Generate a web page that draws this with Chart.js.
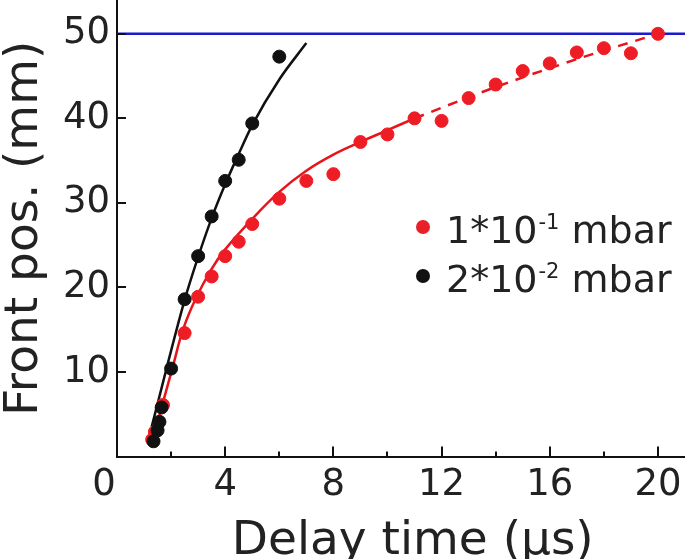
<!DOCTYPE html>
<html>
<head>
<meta charset="utf-8">
<script src="https://cdn.jsdelivr.net/npm/chart.js@4.4.1/dist/chart.umd.min.js"></script>
<style>
  html, body { margin: 0; padding: 0; background: #fff; }
  #wrap { width: 685px; height: 559px; }
</style>
</head>
<body>
<div id="wrap"><canvas id="myChart" width="685" height="559"></canvas></div>
<script>
// 1*10^-1 mbar, measured points
const redX = [1.3, 1.4, 1.7, 2.5, 3, 3.5, 4, 4.5, 5, 6, 7, 8, 9, 10, 11, 12, 13, 14, 15, 16, 17, 18, 19, 20];
const redY = [2.0, 2.9, 6.1, 14.6, 18.9, 21.3, 23.7, 25.4, 27.5, 30.5, 32.6, 33.4, 37.2, 38.1, 40.0, 39.7, 42.4, 44.0, 45.6, 46.5, 47.8, 48.3, 47.7, 50.0];
// 2*10^-2 mbar, measured points
const blackX = [1.35, 1.5, 1.57, 1.65, 2, 2.5, 3, 3.5, 4, 4.5, 5, 6];
const blackY = [1.8, 3.1, 4.1, 5.8, 10.4, 18.6, 23.7, 28.4, 32.6, 35.1, 39.4, 47.3];
// fit curves
const redFitX = [1.39, 2.07, 2.44, 2.9, 3.5, 4, 5, 6, 7, 8, 9, 10, 11];
const redFitY = [2.8, 10.7, 15.0, 18.6, 22.2, 24.5, 28.1, 31.3, 33.8, 35.7, 37.2, 38.6, 40.0];
const redExtX = [11, 14, 17, 20];
const redExtY = [40.0, 43.7, 47.0, 50.0];
const blackFitX = [1.28, 2.5, 3, 3.5, 4, 4.5, 5, 6, 7];
const blackFitY = [3.5, 18.5, 23.6, 28.2, 32.2, 35.8, 39.2, 44.6, 48.9];
// chamber end
const limitX = [0, 21];
const limitY = [50, 50];
// axes
const xTicks = [0, 4, 8, 12, 16, 20];
const xMinor = [2, 6, 10, 14, 18];
const yTicks = [10, 20, 30, 40, 50];
const legendRows = [['1*10', '-1', ' mbar', '#e8202a'], ['2*10', '-2', ' mbar', '#111']];

const FONT = '"DejaVu Sans"';
const pts = (xs, ys) => xs.map((v, i) => ({ x: v, y: ys[i] }));

const ticksPlugin = {
    id: 'inTicks',
    afterDraw(chart) {
        const ctx = chart.ctx;
        const x = chart.scales.x;
        const y = chart.scales.y;
        ctx.save();
        ctx.strokeStyle = '#111';
        ctx.lineWidth = 2;
        ctx.beginPath();
        xTicks.concat(xMinor).forEach(v => {
            if (v === 0) return;
            const px = Math.round(x.getPixelForValue(v));
            const len = v % 4 === 0 ? 10 : 5;
            ctx.moveTo(px, y.bottom);
            ctx.lineTo(px, y.bottom - len);
        });
        yTicks.forEach(v => {
            const py = Math.round(y.getPixelForValue(v));
            ctx.moveTo(x.left, py);
            ctx.lineTo(x.left + 9, py);
        });
        ctx.stroke();

        // legend
        legendRows.forEach((row, i) => {
            const base = 243 + i * 49;
            ctx.fillStyle = row[3];
            ctx.beginPath();
            ctx.arc(423, base - 16, 7, 0, Math.PI * 2);
            ctx.fill();
            ctx.fillStyle = '#222';
            ctx.textBaseline = 'alphabetic';
            ctx.font = '38px ' + FONT;
            let tx = 446;
            ctx.fillText(row[0], tx, base);
            tx += ctx.measureText(row[0]).width + 1;
            ctx.font = '21px ' + FONT;
            ctx.fillText(row[1], tx, base - 14);
            tx += ctx.measureText(row[1]).width;
            ctx.font = '38px ' + FONT;
            ctx.fillText(row[2], tx, base);
        });
        ctx.restore();
    }
};

const ctx = document.getElementById('myChart');
new Chart(ctx, {
    type: 'scatter',
    data: {
        datasets: [
            {
                data: pts(blackX, blackY),
                backgroundColor: '#111',
                borderColor: '#111',
                pointRadius: 6.5,
                order: 0
            },
            {
                data: pts(redX, redY),
                backgroundColor: '#ee1c24',
                borderColor: '#ee1c24',
                pointRadius: 6.5,
                order: 1
            },
            {
                data: pts(blackFitX, blackFitY),
                showLine: true,
                borderColor: '#111',
                borderWidth: 2.5,
                pointRadius: 0,
                cubicInterpolationMode: 'monotone',
                order: 2
            },
            {
                data: pts(redFitX, redFitY),
                showLine: true,
                borderColor: '#e8141c',
                borderWidth: 2.5,
                pointRadius: 0,
                tension: 0.4,
                order: 3
            },
            {
                data: pts(redExtX, redExtY),
                showLine: true,
                borderColor: '#e8141c',
                borderWidth: 2.5,
                borderDash: [10, 8],
                pointRadius: 0,
                cubicInterpolationMode: 'monotone',
                order: 4
            },
            {
                data: pts(limitX, limitY),
                showLine: true,
                borderColor: '#1a1ad0',
                borderWidth: 2.5,
                pointRadius: 0,
                order: 5
            }
        ]
    },
    options: {
        responsive: false,
        animation: false,
        layout: { padding: 0, autoPadding: false },
        plugins: {
            legend: { display: false },
            tooltip: { enabled: false }
        },
        scales: {
            x: {
                type: 'linear',
                min: 0,
                max: 21,
                afterBuildTicks: axis => { axis.ticks = xTicks.map(v => ({ value: v })); },
                afterFit: axis => {
                    axis.height = 102.5;
                    axis.paddingLeft = 0;
                    axis.paddingRight = 0;
                },
                grid: { display: false, drawTicks: false },
                border: { display: true, color: '#111', width: 2 },
                ticks: {
                    padding: 7,
                    color: '#222',
                    font: { family: FONT, size: 37 },
                    maxRotation: 0,
                    callback: v => v === 0 ? '0\u2002\u2009' : String(v)
                },
                title: {
                    display: true,
                    text: '\u2002Delay time (μs)',
                    color: '#222',
                    font: { family: FONT, size: 47, lineHeight: 1 },
                    padding: { top: 0, bottom: -6 }
                }
            },
            y: {
                type: 'linear',
                min: 0,
                max: 54,
                afterBuildTicks: axis => { axis.ticks = yTicks.map(v => ({ value: v })); },
                afterFit: axis => {
                    axis.width = 117;
                    axis.paddingTop = 0;
                    axis.paddingBottom = 0;
                },
                grid: { display: false, drawTicks: false },
                border: { display: true, color: '#111', width: 2 },
                ticks: {
                    padding: 7,
                    color: '#222',
                    font: { family: FONT, size: 37 }
                },
                title: {
                    display: true,
                    text: 'Front pos. (mm)',
                    color: '#222',
                    font: { family: FONT, size: 47, lineHeight: 1 },
                    padding: { top: 1, bottom: 0 }
                }
            }
        }
    },
    plugins: [ticksPlugin]
});
</script>
</body>
</html>
